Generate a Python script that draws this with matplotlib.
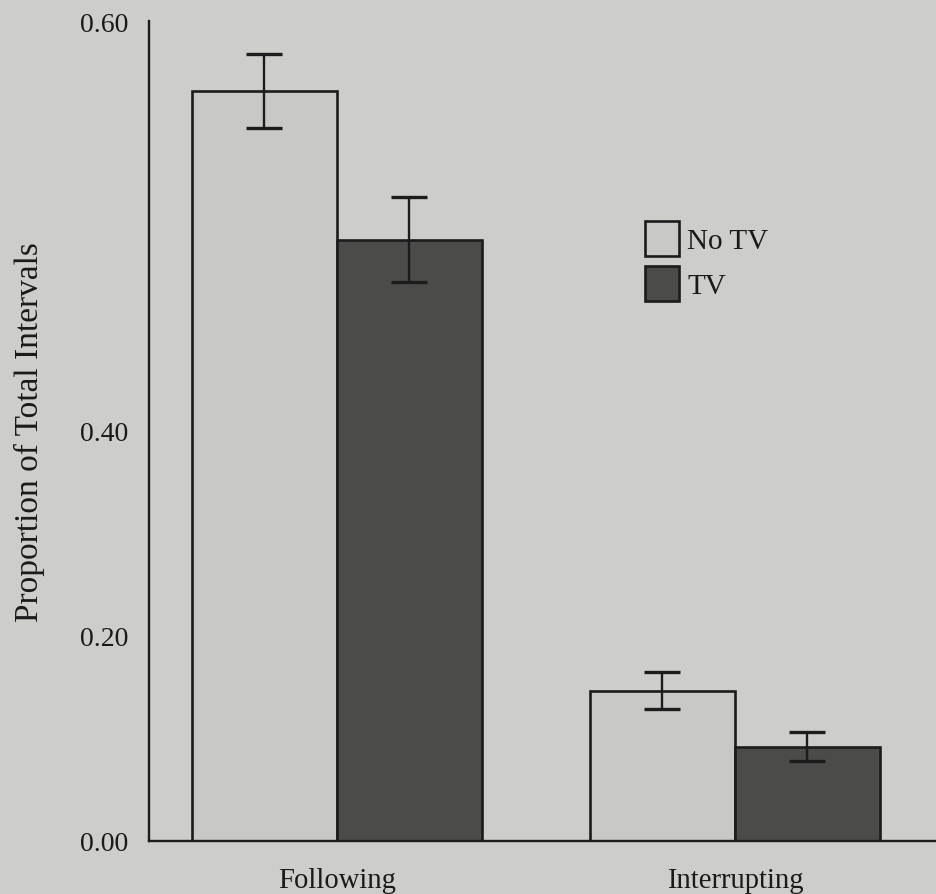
import matplotlib
matplotlib.use("Agg")
import matplotlib.pyplot as plt
from matplotlib.patches import Patch
import numpy as np

categories = ["Following", "Interrupting"]
series_names = ["No TV", "TV"]
no_tv = [0.549, 0.110]
no_tv_err = [0.027, 0.0135]
tv = [0.440, 0.069]
tv_err = [0.031, 0.0105]
tick_values = [0.0, 0.15, 0.30, 0.60]
tick_labels = ["0.00", "0.20", "0.40", "0.60"]

plt.rcParams['font.family'] = ['Liberation Serif', 'DejaVu Serif']

bg = "#cdcec9"
light = "#c8c9c6"
dark = "#4b4b49"
edge = "#1c1c1c"

fig = plt.figure(figsize=(9.37, 8.95), dpi=100, facecolor=bg)
ax = fig.add_axes([149/937, 1 - 842/895, 1 - 149/937, (842 - 22)/895])
ax.set_facecolor(bg)

x = np.arange(len(categories))
w = 0.364
err_kw = dict(ecolor=edge, elinewidth=1.7, capsize=13, capthick=2.4)
ax.bar(x - w/2, no_tv, w, color=light, edgecolor=edge, linewidth=1.9,
       yerr=no_tv_err, error_kw=err_kw, label=series_names[0], zorder=2)
ax.bar(x + w/2, tv, w, color=dark, edgecolor=edge, linewidth=1.9,
       yerr=tv_err, error_kw=err_kw, label=series_names[1], zorder=2)

ax.set_xlim(-0.472, 1.508)
ax.set_ylim(0, 0.6)
ax.set_yticks(tick_values)
ax.set_yticklabels(tick_labels)
ax.set_xticks(x)
ax.set_xticklabels(categories)
ax.tick_params(axis='y', length=0, labelsize=20, colors='#1a1a1a', pad=15)
ax.tick_params(axis='x', length=0, labelsize=20.6, colors='#1a1a1a', pad=19)
for s in ['top', 'right']:
    ax.spines[s].set_visible(False)
for s in ['left', 'bottom']:
    ax.spines[s].set_linewidth(1.7)
    ax.spines[s].set_color(edge)

ax.set_ylabel("Proportion of Total Intervals", fontsize=24, labelpad=25, color='#1a1a1a')

handles = [Patch(facecolor=light, edgecolor=edge, linewidth=1.9),
           Patch(facecolor=dark, edgecolor=edge, linewidth=1.9)]
leg = ax.legend(handles, series_names, loc='upper left',
                bbox_to_anchor=(645/937, 1 - 222/895), bbox_transform=fig.transFigure,
                frameon=False, fontsize=21, handlelength=1.15, handleheight=1.45,
                handletextpad=0.3, labelspacing=0.37, borderpad=0, borderaxespad=0)
for t in leg.get_texts():
    t.set_color('#1a1a1a')

fig.savefig("out.png", dpi=100, facecolor=bg)
